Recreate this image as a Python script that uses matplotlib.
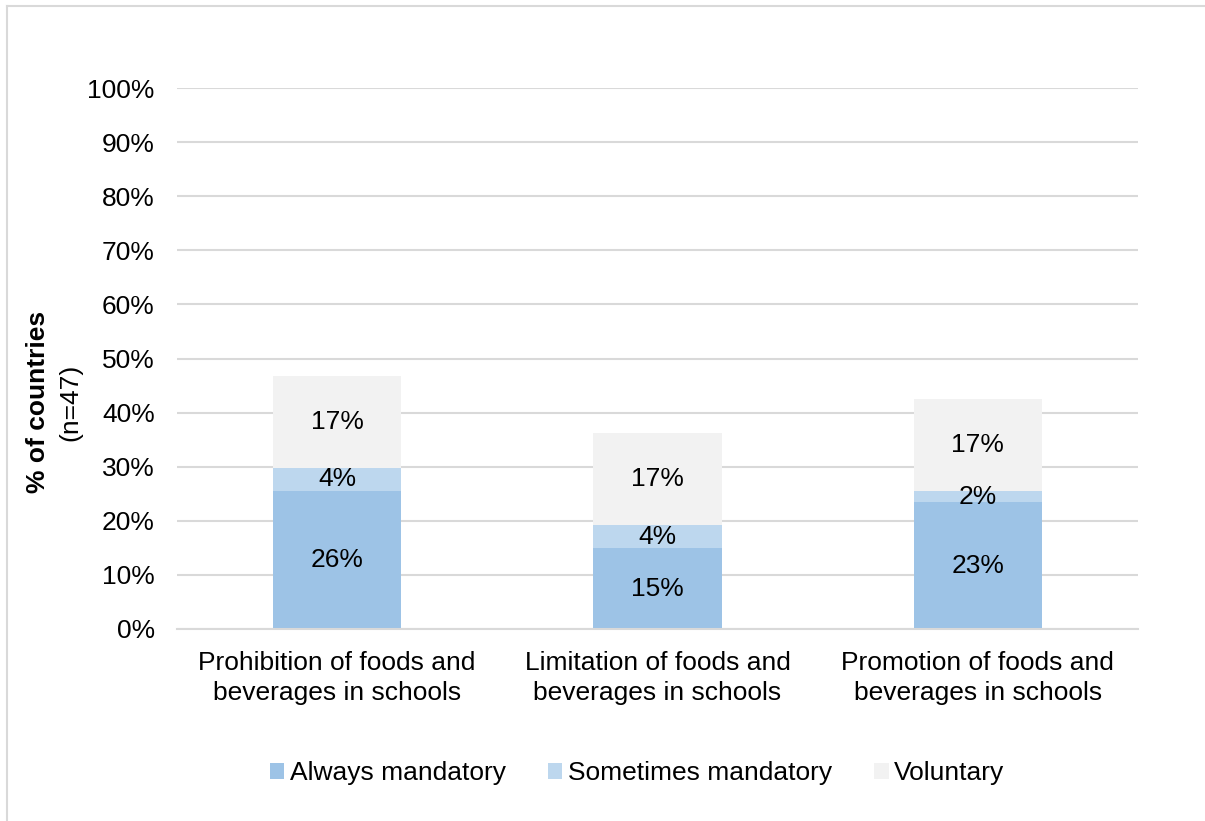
import matplotlib
matplotlib.use("Agg")
import matplotlib.pyplot as plt
from matplotlib.lines import Line2D
from matplotlib.patches import Patch

plt.rcParams['font.family'] = ['Liberation Sans', 'DejaVu Sans']

categories = ["Prohibition of foods and\nbeverages in schools",
              "Limitation of foods and\nbeverages in schools",
              "Promotion of foods and\nbeverages in schools"]
series_names = ["Always mandatory", "Sometimes mandatory", "Voluntary"]
always = [25.5, 14.9, 23.4]
sometimes = [4.3, 4.3, 2.1]
voluntary = [17.0, 17.0, 17.0]
always_labels = ["26%", "15%", "23%"]
sometimes_labels = ["4%", "4%", "2%"]
voluntary_labels = ["17%", "17%", "17%"]
yticks = [0, 10, 20, 30, 40, 50, 60, 70, 80, 90, 100]
ytick_labels = ["0%", "10%", "20%", "30%", "40%", "50%", "60%", "70%", "80%", "90%", "100%"]
colors = ["#9DC3E6", "#BDD7EE", "#F2F2F2"]

W, H = 1205, 821
fig = plt.figure(figsize=(W / 100, H / 100), dpi=100)
ax = fig.add_axes([177 / W, 1 - 629 / H, (1138 - 177) / W, (629 - 88) / H])

x = list(range(len(categories)))
width = 0.4
fs = 19

bottoms = [0, 0, 0]
for vals, labs, col, name in zip([always, sometimes, voluntary],
                                  [always_labels, sometimes_labels, voluntary_labels],
                                  colors, series_names):
    ax.bar(x, vals, width, bottom=bottoms, color=col, label=name, zorder=2)
    for xi, v, b, lab in zip(x, vals, bottoms, labs):
        ax.text(xi, b + v / 2, lab, ha='center', va='center', fontsize=fs, color='#000000', zorder=3)
    bottoms = [b + v for b, v in zip(bottoms, vals)]

ax.set_xlim(-0.5, len(categories) - 0.5)
ax.set_ylim(0, 100)
ax.set_yticks(yticks)
ax.set_yticklabels(ytick_labels, fontsize=fs)
ax.set_xticks(x)
ax.set_xticklabels(categories, fontsize=fs, linespacing=1.33)
ax.tick_params(axis='y', length=0, pad=16)
ax.tick_params(axis='x', length=0, pad=15.5)
ax.grid(axis='y', color='#D9D9D9', linewidth=1.5, zorder=0)
ax.set_axisbelow(True)
for s in ['top', 'right', 'left']:
    ax.spines[s].set_visible(False)
ax.spines['bottom'].set_color('#D9D9D9')
ax.spines['bottom'].set_linewidth(1.5)

# y-axis label (two lines, bold first line)
fig.text(38 / W, 1 - 402 / H, "% of countries", rotation=90, ha='center', va='center',
         fontsize=fs, fontweight='bold')
fig.text(70 / W, 1 - 402 / H, "(n=47)", rotation=90, ha='center', va='center', fontsize=fs)

# legend
handles = [Patch(facecolor=c, edgecolor='none') for c in colors]
fig.legend(handles, series_names, loc='center', bbox_to_anchor=(637 / W, 1 - 773 / H),
           ncol=3, frameon=False, fontsize=fs, handlelength=0.55, handleheight=0.55,
           handletextpad=0.2, columnspacing=1.6)

# outer border (left and top)
fig.add_artist(Line2D([7.5 / W, 7.5 / W], [0, 1 - 6.5 / H], color='#D9D9D9', linewidth=1.5,
                      transform=fig.transFigure))
fig.add_artist(Line2D([7.5 / W, 1], [1 - 6.5 / H, 1 - 6.5 / H], color='#D9D9D9', linewidth=1.5,
                      transform=fig.transFigure))

fig.savefig("out.png", dpi=100)
